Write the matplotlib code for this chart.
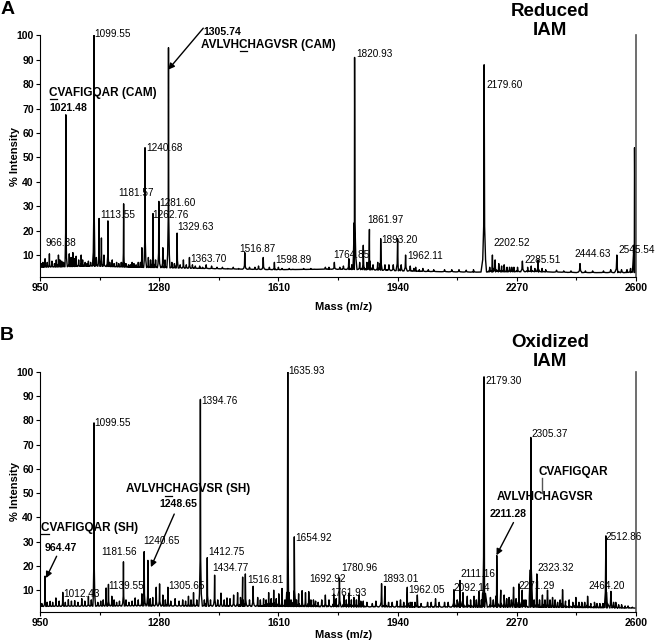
import numpy as np
import matplotlib
matplotlib.use("Agg")
import matplotlib.pyplot as plt
import matplotlib.transforms as mtransforms
from matplotlib.lines import Line2D

plt.rcParams['font.family'] = ['Liberation Sans', 'DejaVu Sans']

# ---- data ----
ticks_x = [950, 1280, 1610, 1940, 2270, 2600]

# panel A: reduced IAM
top_mass = [964, 976, 990, 1001, 1010, 1021.5, 1031, 1041, 1050, 1064, 1075, 1084,
            1099.5, 1106, 1113.5, 1120, 1127, 1138, 1150, 1162, 1181.5, 1195, 1210,
            1222, 1232, 1240.7, 1250, 1262.8, 1270, 1279, 1290, 1305.7, 1315, 1329.6,
            1347, 1363.7, 1380, 1410, 1440, 1470, 1500, 1516.9, 1530, 1568, 1598.9,
            1620, 1650, 1680, 1710, 1740, 1764.9, 1780, 1805, 1820.9, 1835, 1845, 1862,
            1872, 1893.2, 1916, 1940, 1962.1, 1975, 1990, 2010, 2040, 2070, 2110, 2150,
            2179.6, 2202.5, 2210, 2220, 2235, 2250, 2262, 2272, 2285.5, 2300, 2329,
            2350, 2380, 2400, 2445, 2480, 2510, 2547, 2560, 2596]
top_int = [8.5, 10.5, 6.5, 10, 7.5, 67.5, 10.5, 11, 9.5, 10, 7, 7.5,
           100, 9, 25, 17, 10, 24, 8, 7, 31, 6, 6.5,
           7, 13, 54, 9, 27, 8, 32, 13, 95, 7, 19,
           8, 9, 5.5, 6, 5, 4.5, 4.5, 11, 5, 9, 7,
           4.5, 4.2, 4.5, 4.2, 5, 7, 5, 8.5, 91, 7, 14, 20.5,
           6, 16.7, 6, 16.7, 10, 5.5, 5, 4.5, 4, 4, 4, 4,
           88, 10, 8, 6.5, 6, 5, 5, 5, 7.5, 5, 8,
           4, 3.8, 3.5, 6.5, 3.5, 3.5, 10, 4, 54]
# small wiggles of the baseline
top_noise_mass = [955, 958, 970, 983, 995, 1005, 1015, 1036, 1045, 1057, 1068, 1080, 1090,
                  1143, 1155, 1168, 1175, 1188, 1200, 1205, 1216, 1228, 1256, 1296, 1322,
                  1338, 1355, 1372, 1392, 1400, 1425, 1455, 1485, 1545, 1555, 1585, 1610,
                  1640, 1700, 1750, 1790, 1813, 1855, 1885, 1905, 1928, 1950, 1985, 2000,
                  2025, 2090, 2130, 2195, 2228, 2243, 2256, 2310, 2320, 2340, 2420, 2460,
                  2530, 2575, 2585]
top_noise_int = [6.5, 7, 7, 7.5, 8, 8, 7, 9, 8.5, 8, 8, 6.5, 7,
                 7, 6.5, 6.5, 7, 6.5, 6, 7, 6, 7, 8, 8, 6.5,
                 6, 6, 6, 5.5, 5, 5.5, 5, 5, 5, 5.5, 5, 5,
                 4.5, 4.5, 5, 5.5, 6, 7, 7, 6, 6, 6, 4.5, 4,
                 4, 4, 3.8, 5, 5.5, 5, 5, 5.5, 4.5, 4.5, 3.5, 3.5,
                 4, 4, 4.5]
top_base_mass = [950, 1100, 1200, 1300, 1400, 1600, 1750, 1850, 2000, 2150, 2300, 2450, 2600]
top_base_int = [5, 5.5, 5, 4.8, 4.5, 4, 4.2, 4, 3.3, 3, 3.2, 2.8, 2.8]

top_labels = ["1099.55", "1240.68", "1181.57", "1113.55", "1281.60", "1262.76", "1329.63",
              "966.38", "1363.70", "1516.87", "1598.89", "1820.93", "2179.60", "1764.85",
              "1861.97", "1893.20", "1962.11", "2202.52", "2285.51", "2444.63", "2545.54"]
top_label_x = [1100.6, 1243, 1167, 1116, 1281, 1260.6, 1330.7,
               965.8, 1366, 1502.7, 1601.7, 1825.4, 2186.8, 1761.6,
               1856, 1895.6, 1966.8, 2205, 2290, 2430.8, 2552]
top_label_y = [100.7, 54, 35.5, 26.3, 31.5, 26.3, 21.5,
               15.1, 8.2, 12.3, 7.8, 92.6, 79.8, 10.2,
               24.3, 16.3, 9.5, 15, 7.8, 10.3, 12.2]

# panel B: oxidized IAM
bot_mass = [964, 978, 994, 1013, 1028.5, 1046, 1065.6, 1084, 1099.5, 1110, 1133, 1139.5,
            1148.8, 1162, 1181, 1196, 1213.4, 1232, 1238.4, 1248.6, 1262, 1271.7, 1281,
            1290, 1304, 1324, 1345, 1361, 1375, 1394, 1413, 1433.4, 1451, 1467.6, 1486,
            1497, 1511, 1518.5, 1540, 1552.6, 1569, 1583, 1597, 1611, 1620, 1635.9, 1645,
            1654, 1666, 1675.6, 1685, 1694, 1707, 1720, 1740, 1763, 1779, 1791, 1805,
            1819, 1832.7, 1845, 1870, 1895.6, 1904.8, 1925, 1948, 1966.8, 1980, 1994.6,
            2023, 2045, 2070, 2096, 2112.7, 2121, 2133, 2151.6, 2165, 2179.3, 2197,
            2214.5, 2225.6, 2235, 2248.6, 2261, 2276, 2285, 2295, 2308.8, 2325.4, 2341,
            2355, 2369, 2383, 2396.7, 2415, 2433.6, 2450, 2466, 2485, 2500, 2516.7,
            2530.6, 2544, 2560, 2578]
bot_int = [15.8, 5.4, 6.8, 9.1, 6.1, 5.7, 6.5, 7.5, 79, 5, 10.9, 12.4,
           7.5, 5, 21.7, 5, 6.8, 8.5, 25.9, 22.3, 7, 11.2, 12.6,
           8, 11.2, 6.5, 6, 7.5, 9, 88.7, 23.4, 16.2, 8.8, 6.8, 8,
           9, 15.4, 16.7, 11.6, 7, 6.5, 9, 10, 8.5, 10.7, 100, 6,
           32, 8.5, 9.8, 9, 9.4, 6, 5, 8, 8.4, 15, 8, 8.8,
           7, 8, 5.5, 4.5, 12.7, 11.6, 5, 6, 11.2, 5, 8,
           5, 6.5, 5, 10.2, 14, 9, 7.5, 7.5, 9.5, 98, 7,
           24.3, 10, 8, 7, 11.2, 12.6, 10, 6, 73, 16.7, 8,
           10, 7, 5, 10.2, 6, 7, 5, 7.5, 5, 4.5, 32.4,
           9.5, 5, 4, 3.5]
bot_noise_mass = [955, 970, 985, 1003, 1020, 1037, 1055, 1074, 1092, 1118, 1125, 1155, 1170,
                  1188, 1205, 1222, 1255, 1297, 1312, 1335, 1353, 1368, 1384, 1405, 1422,
                  1442, 1460, 1476, 1505, 1530, 1560, 1576, 1590, 1604, 1628, 1660, 1700,
                  1713, 1730, 1750, 1770, 1798, 1812, 1826, 1838, 1855, 1880, 1915, 1938,
                  1957, 1975, 1988, 2005, 2033, 2055, 2080, 2105, 2142, 2158, 2172, 2205,
                  2242, 2255, 2268, 2290, 2318, 2333, 2348, 2362, 2376, 2390, 2405, 2425,
                  2442, 2458, 2475, 2492, 2508, 2538, 2552, 2570, 2590]
bot_noise_int = [4.5, 5, 5, 5.5, 5, 5.5, 5, 5.5, 6, 5.5, 6, 6, 5.5,
                 6, 5.5, 6, 6.5, 6, 5.5, 5.5, 5.5, 6, 6, 6, 6,
                 6, 6, 6.5, 7, 6, 6, 6, 6.5, 6.5, 6, 6, 6,
                 5.5, 6, 6, 6.5, 6, 6, 6, 5.5, 5, 5.5, 5, 5.5,
                 5, 5, 5, 4.5, 5, 5, 5, 6, 6, 6, 6, 6,
                 6.5, 6, 6.5, 6, 6, 6, 6, 6, 6, 6, 5.5, 5,
                 5, 5, 4.5, 4.5, 4.5, 5, 4, 3.5, 3]
bot_base_mass = [950, 1200, 1600, 2000, 2300, 2600]
bot_base_int = [3.3, 3.5, 3.3, 3.0, 3.0, 2.6]

bot_labels = ["1099.55", "1394.76", "1635.93", "2179.30", "2305.37", "1654.92", "1412.75",
              "1434.77", "1516.81", "1181.56", "1240.65", "1139.55", "1012.43", "1305.65",
              "1692.92", "1780.96", "1761.93", "1893.01", "1962.05", "2092.14", "2111.16",
              "2271.29", "2323.32", "2464.20", "2512.86"]
bot_label_x = [1100.6, 1396.5, 1638.6, 2184, 2310.7, 1657, 1416.7,
               1427.8, 1523, 1118.3, 1236.5, 1139.5, 1013, 1305.8,
               1696.8, 1783.8, 1754, 1897.5, 1968.6, 2094.4, 2114.7,
               2274.6, 2327.6, 2468.8, 2516.7]
bot_label_y = [79, 88, 100.5, 96.4, 74.6, 31.7, 25.9,
               19, 14.4, 25.9, 30.3, 11.6, 8.6, 11.6,
               14.8, 19.2, 8.8, 14.7, 10, 10.9, 16.5,
               11.6, 19.2, 11.6, 32]


def spectrum(mass, inten, base_m, base_y):
    # each peak drawn as a narrow profile sitting on the baseline
    pts = list(zip(base_m, base_y))
    for m, h in zip(mass, inten):
        w = 0.004 * m
        b = np.interp(m, base_m, base_y)
        d = h - b
        pts += [(m - w, b), (m - 0.45 * w, b + 0.06 * d), (m - 0.15 * w, b + 0.22 * d), (m, h),
                (m + 0.15 * w, b + 0.22 * d), (m + 0.45 * w, b + 0.06 * d), (m + w, b)]
    pts.sort(key=lambda p: p[0])
    return [p[0] for p in pts], [p[1] for p in pts]


fig = plt.figure(figsize=(6.56, 6.43), dpi=100)
ax1 = fig.add_axes([0.061, 0.5692, 0.9085, 0.3756])
ax2 = fig.add_axes([0.061, 0.0482, 0.9085, 0.3733])
renderer = fig.canvas.get_renderer()


def style_axes(ax, label_y):
    ax.set_xlim(950, 2600)
    ax.set_ylim(1, 100)
    ax.set_xticks(ticks_x)
    ax.set_xticks([1115, 1445, 1775, 2105, 2435], minor=True)
    ax.set_yticks(range(10, 101, 10))
    ax.tick_params(axis='both', which='major', labelsize=7.5, length=3, width=0.8, pad=1.5)
    ax.tick_params(axis='x', which='minor', length=2, width=0.8)
    for lab in ax.get_xticklabels() + ax.get_yticklabels():
        lab.set_fontweight('bold')
    ax.spines['top'].set_visible(False)
    ax.spines['right'].set_color('#555555')
    ax.spines['right'].set_linewidth(1.2)
    ax.set_xlabel('Mass (m/z)', fontsize=8, fontweight='bold')
    ax.xaxis.set_label_coords(0.51, label_y)
    ax.set_ylabel('% Intensity', fontsize=8, fontweight='bold')
    ax.yaxis.set_label_coords(-0.033, 0.5)


def text_width_pt(s, size):
    t = fig.text(0, 0, s, fontsize=size, fontweight='bold')
    w = t.get_window_extent(renderer).width * 72.0 / fig.dpi
    t.remove()
    return w


def underlined(ax, x, y, s, idx, size):
    ax.text(x, y, s, fontsize=size, fontweight='bold', ha='left', va='center')
    w_pre = text_width_pt(s[:idx], size) if idx > 0 else 0.0
    w_ch = text_width_pt(s[idx], size)
    # offsets in points measured from the text anchor
    tr = (mtransforms.Affine2D().scale(1 / 72.0) + fig.dpi_scale_trans
          + mtransforms.ScaledTranslation(x, y, ax.transData))
    dy = -0.55 * size
    fig.add_artist(Line2D([w_pre + 0.4, w_pre + w_ch - 0.4], [dy, dy],
                          color='black', lw=0.9, transform=tr))


arrow = dict(arrowstyle='-|>', lw=1.0, color='black', mutation_scale=9, shrinkA=0, shrinkB=0)

style_axes(ax1, -0.104)
style_axes(ax2, -0.075)

# ---- panel A ----
mx, my = spectrum(top_mass + top_noise_mass, top_int + top_noise_int, top_base_mass, top_base_int)
ax1.plot(mx, my, color='black', lw=1.0)
for s, x, y in zip(top_labels, top_label_x, top_label_y):
    ax1.text(x, y, s, fontsize=7.2, ha='left', va='center')

underlined(ax1, 975, 76.5, 'CVAFIGQAR (CAM)', 0, 8.5)
ax1.text(975, 70.4, '1021.48', fontsize=7.6, fontweight='bold', ha='left', va='center')
ax1.text(1402, 101.6, '1305.74', fontsize=7.6, fontweight='bold', ha='left', va='center')
underlined(ax1, 1396.5, 96.3, 'AVLVHCHAGVSR (CAM)', 5, 8.5)
ax1.annotate('', xy=(1305, 86), xytext=(1402, 103), arrowprops=arrow, annotation_clip=False)

# ---- panel B ----
mx, my = spectrum(bot_mass + bot_noise_mass, bot_int + bot_noise_int, bot_base_mass, bot_base_int)
ax2.plot(mx, my, color='black', lw=1.0)
for s, x, y in zip(bot_labels, bot_label_x, bot_label_y):
    ax2.text(x, y, s, fontsize=7.2, ha='left', va='center')

underlined(ax2, 952, 35.8, 'CVAFIGQAR (SH)', 0, 8.5)
ax2.text(963.9, 27.5, '964.47', fontsize=7.6, fontweight='bold', ha='left', va='center')
ax2.annotate('', xy=(966.6, 15), xytext=(996, 24), arrowprops=arrow)
underlined(ax2, 1188.5, 51.7, 'AVLVHCHAGVSR (SH)', 5, 8.5)
ax2.text(1280.9, 45.5, '1248.65', fontsize=7.6, fontweight='bold', ha='left', va='center')
ax2.annotate('', xy=(1257, 19.5), xytext=(1321.6, 41.4), arrowprops=arrow)
ax2.text(2329, 58.6, 'CVAFIGQAR', fontsize=8.5, fontweight='bold', ha='left', va='center')
ax2.plot([2338.5, 2338.5], [56.4, 50.2], color='#555555', lw=1.0)
ax2.text(2214.5, 48.5, 'AVLVHCHAGVSR', fontsize=8.5, fontweight='bold', ha='left', va='center')
ax2.text(2195, 41.6, '2211.28', fontsize=7.6, fontweight='bold', ha='left', va='center')
ax2.annotate('', xy=(2213.7, 24.4), xytext=(2260.8, 37.9), arrowprops=arrow)

# titles and panel letters
fig.text(550 / 656, 1 - 21 / 643, 'Reduced\nIAM', fontsize=13.5, fontweight='bold',
         ha='center', va='center', linespacing=1.1)
fig.text(550 / 656, 1 - 352 / 643, 'Oxidized\nIAM', fontsize=13.5, fontweight='bold',
         ha='center', va='center', linespacing=1.1)
fig.text(8 / 656, 1 - 10 / 643, 'A', fontsize=14, fontweight='bold', ha='center', va='center')
fig.text(7 / 656, 1 - 336 / 643, 'B', fontsize=14, fontweight='bold', ha='center', va='center')

fig.savefig('out.png', dpi=100)
